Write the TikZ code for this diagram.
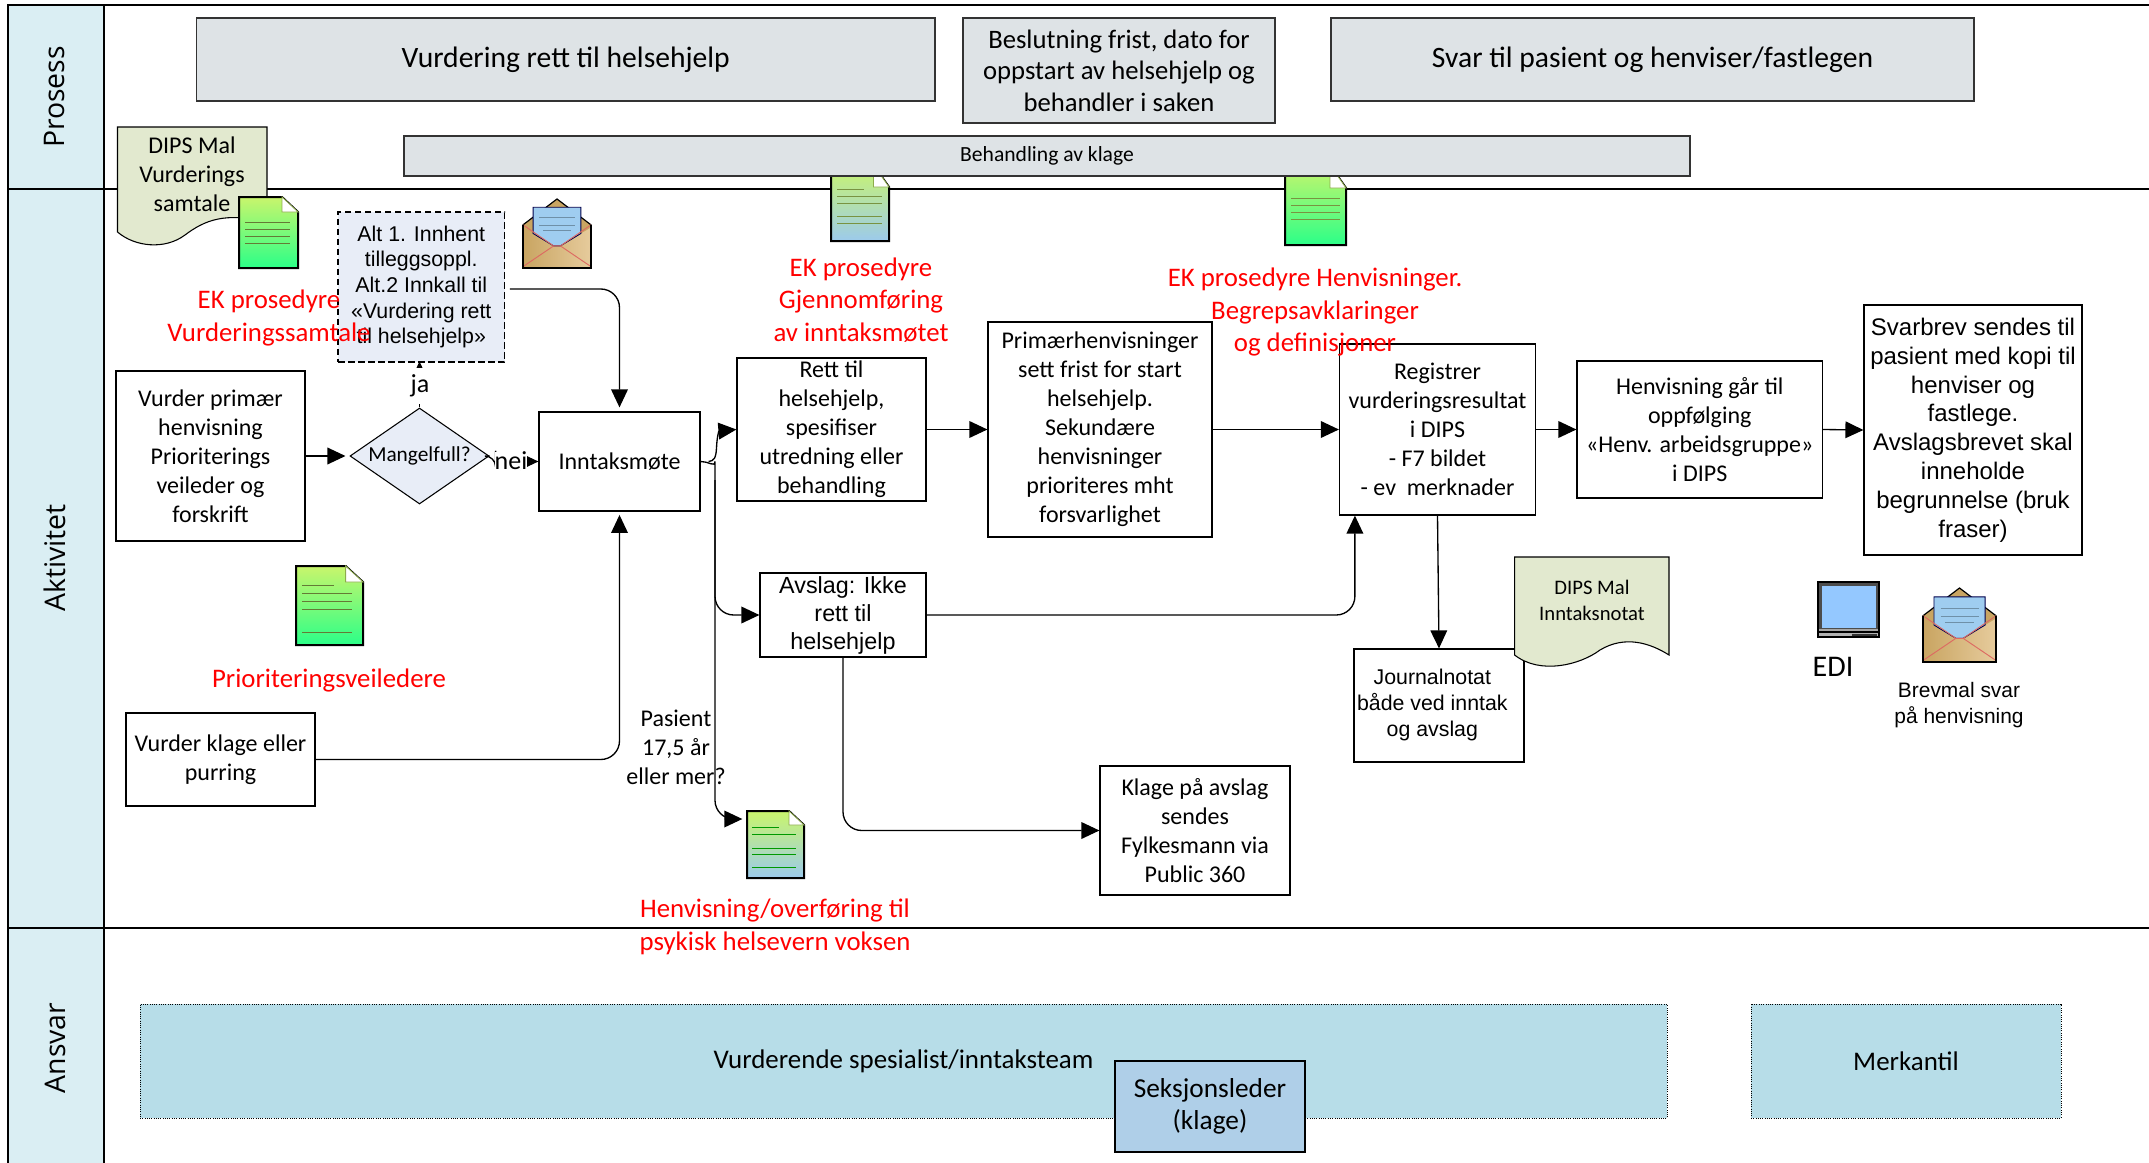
\documentclass[tikz,border=0pt]{standalone}
\usepackage{fontspec}
\setmainfont{Carlito}
\newfontfamily\arialf{Liberation Sans}
\newfontfamily\lanef{Open Sans}
\usetikzlibrary{arrows.meta,calc,shapes.geometric}
\definecolor{lanefill}{HTML}{DAEEF3}
\definecolor{grayfill}{HTML}{DEE3E6}
\definecolor{notefill}{HTML}{E2E9CF}
\definecolor{bluefill}{HTML}{E8EDF7}
\definecolor{respfill}{HTML}{B7DDE8}
\definecolor{seksfill}{HTML}{AFCFE8}
\definecolor{docTop}{HTML}{C9F56C}
\definecolor{docGreen}{HTML}{2BFF88}
\definecolor{docBlue}{HTML}{9CCAEC}
\definecolor{envA}{HTML}{C9A562}
\definecolor{envB}{HTML}{E6CB9C}
\definecolor{letter}{HTML}{9FCDF0}
\definecolor{envRed}{HTML}{DD6A62}
\definecolor{screenblue}{HTML}{94C8FF}
\newcommand{\BX}[7]{% name, style, x1, y1, x2, y2, text
  \pgfmathsetmacro{\bxw}{(#5-#3)*0.75}\pgfmathsetmacro{\bxh}{(#6-#4)*0.75}
  \pgfmathsetmacro{\bxx}{(#3+#5)/2}\pgfmathsetmacro{\bxy}{(#4+#6)/2}
  \node[#2,minimum width=\bxw pt,minimum height=\bxh pt] (#1) at (\bxx,\bxy) {#7};}
\newcommand{\DOC}[9]{% x1,y1,x2,y2,foldx,foldy,top,bottom,linecolor
  \draw[line width=1.5pt,black,top color=#7,bottom color=#8] (#1,#2) -- (#5,#2) -- (#3,#6) -- (#3,#4) -- (#1,#4) -- cycle;
  \draw[line width=0.6pt,#9!70!black,fill=white] (#5,#2) -- (#5,#6) -- (#3,#6) -- cycle;
}
\newcommand{\ENV}[4]{% x1,y1,x2,y2
  \pgfmathsetmacro{\envw}{(#3-#1)*0.75}\pgfmathsetmacro{\envh}{(#4-#2)*0.75}
  \begin{scope}[shift={(#1,#2)},x={(\envw pt,0pt)},y={(0pt,-\envh pt)}]
  \draw[line width=0.9pt,fill=envA] (0.5,0) -- (1,0.375) -- (1,1) -- (0,1) -- (0,0.375) -- cycle;
  \shade[left color=envA,right color=envB] (0.01,0.42) -- (0.45,0.68) -- (0.55,0.68) -- (0.99,0.42) -- (0.99,0.99) -- (0.01,0.99) -- cycle;
  \draw[line width=0.7pt,black!70!blue,fill=letter] (0.15,0.12) -- (0.85,0.12) -- (0.85,0.5) -- (0.55,0.68) -- (0.45,0.68) -- (0.15,0.5) -- cycle;
  \draw[line width=0.7pt,black!30!letter] (0.24,0.27) -- (0.76,0.27) (0.24,0.38) -- (0.76,0.38) (0.3,0.46) -- (0.7,0.46);
  \draw[line width=0.7pt,envRed] (0,0.375) -- (0.45,0.68) -- (0.55,0.68) -- (1,0.375) (0,0.98) -- (0.45,0.68) (1,0.98) -- (0.55,0.68);
  \draw[line width=0.9pt] (0,0.375) -- (0,1) -- (1,1) -- (1,0.375);
  \end{scope}}
\tikzset{
  x=0.75pt,y=-0.75pt,
  lane/.style={draw=black,line width=1pt,fill=lanefill},
  lanelabel/.style={font=\lanef\fontsize{21.3}{24}\selectfont,rotate=90,anchor=center,inner sep=0pt},
  pbox/.style={draw=black,line width=0.9pt,fill=white,inner sep=0pt,align=center,font=\fontsize{18}{21.7}\selectfont},
  abox/.style={pbox,font=\arialf\fontsize{16.8}{21.5}\selectfont},
  grayb/.style={pbox,fill=grayfill,draw=black!80,font=\fontsize{22.2}{26}\selectfont},
  resp/.style={pbox,fill=respfill,draw=black,line width=0.7pt,densely dotted},
  redt/.style={align=center,text=red,inner sep=0pt,font=\fontsize{20.1}{24.5}\selectfont},
  plain/.style={align=center,inner sep=0pt,font=\fontsize{18}{21.7}\selectfont},
  arrow/.style={draw=black,line width=1pt,rounded corners=14pt,-{Triangle[length=13.5pt,width=12.5pt]}},
  whitelab/.style={fill=white,inner sep=0pt,font=\fontsize{19.5}{21.7}\selectfont},
}
\begin{document}
\begin{tikzpicture}
\useasboundingbox (0,0) rectangle (2149,1163);
\fill[white] (0,0) rectangle (2149,1163);
% lanes
\draw[lane] (8,5) rectangle (104,189);
\draw[lane] (8,189) rectangle (104,928);
\draw[lane] (8,928) rectangle (104,1170);
\draw[line width=1pt] (104,5) -- (2149,5) (104,189) -- (2149,189) (104,928) -- (2149,928);
\node[lanelabel] (l1) at (55,97) {Prosess};
\node[lanelabel] (l2) at (55,558) {Aktivitet};
\node[lanelabel] (l3) at (55,1048) {Ansvar};
% documents behind the process bar
\DOC{831}{165}{889}{241}{873.5}{187}{docTop}{docBlue}{docTop}
\draw[line width=0.6pt,docTop!60!black] (837,189) -- (864,189) (837,196) -- (882,196) (837,203) -- (882,203) (837,216) -- (882,216) (837,223) -- (882,223);
\DOC{1285}{165}{1346}{245}{1330}{188}{docTop}{docGreen}{docTop}
\draw[line width=0.6pt,docTop!60!black] (1291,198) -- (1340,198) (1291,205) -- (1340,205) (1291,212) -- (1340,212) (1291,219) -- (1340,219);
% process bars
\BX{p1}{grayb}{196.5}{18}{935}{101}{Vurdering rett til helsehjelp}
\BX{p2}{grayb,font=\fontsize{20}{23.6}\selectfont}{963}{18}{1275}{123}{Beslutning frist, dato for\\oppstart av helsehjelp og\\behandler i saken}
\BX{p3}{grayb}{1331}{18}{1974}{101}{Svar til pasient og henviser/fastlegen}
\BX{p4}{grayb,font=\fontsize{16.2}{19}\selectfont}{404}{136}{1690}{176}{Behandling av klage}
% DIPS note 1
\draw[line width=0.8pt,fill=notefill] (117.5,127) -- (267,127) -- (267,222) .. controls (225,212) and (205,220) .. (185,235) .. controls (165,250) and (135,247) .. (117.5,232) -- cycle;
\node[plain] (n1) at (192,174) {DIPS Mal\\Vurderings\\samtale};
\DOC{239}{197}{298}{268}{282}{212}{docTop}{docGreen}{docTop}
\draw[line width=0.6pt,docTop!50!black] (245,222) -- (290,222) (245,229) -- (290,229) (245,236) -- (290,236) (245,243) -- (290,243);
% envelope
\ENV{523}{199}{591}{268}
% boxes
\BX{vp}{pbox}{116}{371}{305}{541}{Vurder primær\\henvisning\\Prioriterings\\veileder og\\forskrift}
\pgfmathsetmacro{\dw}{139*0.75}\pgfmathsetmacro{\dh}{96*0.75}
\node[diamond,draw=black,line width=0.8pt,fill=bluefill,inner sep=0pt,aspect=1.45,minimum width=\dw pt,minimum height=\dh pt,font=\fontsize{16}{18}\selectfont] (mg) at (419.5,456) {Mangelfull?};
\BX{inn}{pbox}{539}{412}{700}{511}{Inntaksmøte}
\BX{rett}{pbox}{737}{358}{926}{501}{Rett til\\helsehjelp,\\spesifiser\\utredning eller\\behandling}
\BX{prim}{pbox}{988}{322}{1212}{537}{Primærhenvisninger\\sett frist for start\\helsehjelp.\\Sekundære\\henvisninger\\prioriteres mht\\forsvarlighet}
\BX{reg}{pbox}{1339.5}{344}{1535.5}{515}{Registrer\\vurderingsresultat\\i DIPS\\- F7 bildet\\- ev\ \ merknader}
\BX{henv}{pbox}{1577}{361}{1822.5}{498}{Henvisning går til\\oppfølging\\«Henv. arbeidsgruppe»\\i DIPS}
\BX{svar}{abox,font=\arialf\fontsize{18}{21.6}\selectfont}{1864}{305}{2082}{555}{Svarbrev sendes til\\pasient med kopi til\\henviser og\\fastlege.\\Avslagsbrevet skal\\inneholde\\begrunnelse (bruk\\fraser)}
\BX{avs}{abox,font=\arialf\fontsize{17.5}{21}\selectfont}{760}{573}{926}{657}{Avslag: Ikke\\rett til\\helsehjelp}
\BX{vk}{pbox}{126}{713}{315}{806}{Vurder klage eller\\purring}
\BX{kl}{pbox}{1100}{766}{1290}{895}{Klage på avslag\\sendes\\Fylkesmann via\\Public 360}
\BX{jn}{abox,font=\arialf\fontsize{16}{19.5}\selectfont}{1354}{649}{1524}{762}{\raisebox{-2pt}{\begin{tabular}{@{}c@{}}Journalnotat\\både ved inntak\\og avslag\end{tabular}}\hspace*{10pt}}
% Pasient text
\node[plain] (pas) at (676,747) {Pasient\\17,5 år\\eller mer?};
% connectors
\coordinate (d3w) at (745,819);
\draw[arrow,shorten >=3pt] (vp.east) -- (mg.west);
\draw[arrow] (mg.north) -- ($(mg.north)+(0,-46)$);
\node[whitelab,minimum height=27pt,minimum width=28pt] (ja) at (420,386) {ja};
\draw[arrow,shorten <=4pt,shorten >=3pt] (504.6,289) -| (inn.north);
\draw[arrow,shorten >=2.5pt] (vk.east) -| (inn.south);
\draw[arrow,rounded corners=8pt] (mg.east) -- ++(6,0) |- (inn.west);
\node[whitelab] (nei) at (511,461) {nei};
\draw[arrow,rounded corners=0pt] ($(inn.east)+(8,0)$) .. controls (714,461) and (716,458) .. (716.5,448) .. controls (717,436) and (719,431) .. (rett.west);
\draw[arrow,rounded corners=14pt] (inn.east) .. controls (708,461) and (715,468) .. (715,480) |- (avs.west);
\draw[arrow,shorten >=2pt] (715,480) |- (d3w);
\draw[arrow] (rett.east) -- (prim.west);
\draw[arrow] (prim.east) -- (reg.west);
\draw[arrow] (reg.east) -- (henv.west);
\draw[arrow] (henv.east) -- (svar.west);
\draw[arrow] (avs.east) -| ($(reg.south west)+(16,0)$);
\draw[arrow] (reg.south) -- (jn.north);
\draw[arrow] (avs.south) |- (kl.west);
% dashed box drawn over its incoming arrow
\BX{alt}{abox,fill=bluefill,dash pattern=on 5pt off 2.5pt,font=\arialf\fontsize{16}{19.3}\selectfont}{338}{212}{504.6}{362}{Alt 1. Innhent\\tilleggsoppl.\\Alt.2 Innkall til\\«Vurdering rett\\til helsehjelp»}
% doc: Prioritering
\DOC{296}{566}{363}{645}{345.6}{582}{docTop}{docGreen}{docTop}
\draw[line width=0.6pt,docTop!50!black] (302,585) -- (334,585) (302,593) -- (352,593) (302,601) -- (352,601) (302,609) -- (352,609) (302,632) -- (352,632);
% doc: Henvisning
\DOC{747}{811}{804}{878}{789}{825}{docTop}{docBlue}{docTop}
\draw[line width=0.6pt,green!60!black] (752,827) -- (779,827) (752,834) -- (796,834) (752,848) -- (796,848) (752,854) -- (796,854) (752,867) -- (796,867);
% DIPS note 2
\draw[line width=0.8pt,fill=notefill] (1514.6,557) -- (1669,557) -- (1669,655) .. controls (1650,643) and (1625,635) .. (1600,650) .. controls (1580,665) and (1540,675) .. (1514.6,655) -- cycle;
\node[plain,font=\fontsize{15.5}{19.5}\selectfont] (n2) at (1592,600) {DIPS Mal\\Inntaksnotat};
% monitor
\draw[line width=0.8pt,fill=black!35] (1818,582) rectangle (1879,637);
\draw[line width=0.8pt,fill=black!70,draw=black!70] (1820,584) rectangle (1877,628);
\fill[screenblue] (1822,586) rectangle (1876,628);
\draw[line width=0.8pt,fill=black!30] (1818,632) rectangle (1879,637);
\fill[black!80] (1852,634) rectangle (1877,635.5);
\node[plain,font=\fontsize{22.5}{26}\selectfont] (edi) at (1833,667) {EDI};
% envelope 2
\ENV{1923}{588}{1996}{662}
\node[plain,font=\arialf\fontsize{15.7}{19.5}\selectfont] (bm) at (1959,705) {Brevmal svar\\på henvisning};
% responsibility
\BX{r1}{resp,font=\fontsize{20.2}{24}\selectfont}{140}{1004}{1667}{1118}{Vurderende spesialist/inntaksteam}
\BX{r2}{resp,font=\fontsize{20.2}{24}\selectfont}{1751}{1004}{2061}{1118}{Merkantil}
\BX{r3}{pbox,fill=seksfill,font=\fontsize{20.5}{23.8}\selectfont}{1115}{1061}{1305}{1152}{Seksjonsleder\\(klage)}
% red labels
\node[redt] (e1) at (269,318) {EK prosedyre\\Vurderingssamtale};
\node[redt] (e2) at (861,300) {EK prosedyre\\Gjennomføring\\av inntaksmøtet};
\node[redt] (e3) at (1315,312) {EK prosedyre Henvisninger.\\Begrepsavklaringer\\og definisjoner};
\node[redt] (e4) at (329,680) {Prioriteringsveiledere};
\node[redt] (e5) at (775,927) {Henvisning/overføring til\\psykisk helsevern voksen};
\end{tikzpicture}
\end{document}
